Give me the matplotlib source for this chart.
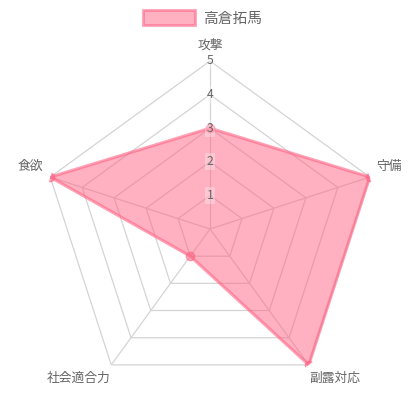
import numpy as np
import matplotlib
matplotlib.use("Agg")
import matplotlib.pyplot as plt
from matplotlib.patches import Patch

plt.rcParams['font.family'] = ['Noto Sans CJK JP', 'DejaVu Sans']

# --- data ---
labels = ['攻撃', '守備', '副露対応', '社会適合力', '食欲']
values = [3, 5, 5, 1, 5]
series_name = '高倉拓馬'
r_ticks = [1, 2, 3, 4, 5]
r_max = 5

TEXT = '#666666'
GRID = '#d4d4d4'
FILL = (1.0, 99 / 255, 132 / 255, 0.5)
EDGE = (1.0, 99 / 255, 132 / 255, 0.6)

n = len(labels)
theta = np.arange(n) * 2 * np.pi / n

fig = plt.figure(figsize=(4.2, 4.2), dpi=100)
ax = fig.add_axes([0.1, 0.0548, 0.8, 0.8], projection='polar')
ax.set_theta_zero_location('N')
ax.set_theta_direction(-1)
ax.set_ylim(0, r_max)
ax.grid(False)
ax.spines['polar'].set_visible(False)
ax.set_xticks([])
ax.set_yticks([])
ax.patch.set_alpha(0)

# polygon grid and spokes
th_closed = np.append(theta, theta[0])
for r in r_ticks:
    ax.plot(th_closed, [r] * (n + 1), color=GRID, lw=0.9, zorder=1)
for t in theta:
    ax.plot([t, t], [0, r_max], color=GRID, lw=0.9, zorder=1)

# data series
v_closed = np.append(values, values[0])
ax.fill(th_closed, v_closed, color=FILL, lw=0, zorder=2)
ax.plot(th_closed, v_closed, color=EDGE, lw=2.2, zorder=3)
ax.plot(theta, values, 'o', ms=6, color=FILL, mec=EDGE, mew=1, zorder=4)

# radial tick labels along the top spoke
for r in r_ticks:
    ax.text(0, r, str(r), ha='center', va='center', fontsize=8.8, color=TEXT, zorder=5,
            bbox=dict(boxstyle='square,pad=0.15', fc='white', ec='none', alpha=0.3))

# axis labels (offsets in points)
label_pos = [
    ((0, 11.5), 'center'),
    ((5, 7.5), 'left'),
    ((0.5, -9.5), 'left'),
    ((-0.5, -9.5), 'right'),
    ((-5, 7.5), 'right'),
]
for t, lab, (off, ha) in zip(theta, labels, label_pos):
    ax.annotate(lab, xy=(t, r_max), xytext=off, textcoords='offset points',
                ha=ha, va='center', fontsize=9.2, color=TEXT, annotation_clip=False)

# legend
handle = Patch(facecolor=FILL, edgecolor=EDGE, linewidth=2)
fig.legend([handle], [series_name], loc='center', bbox_to_anchor=(0.482, 0.957),
           frameon=False, fontsize=10.6, labelcolor=TEXT, handlelength=3.5,
           handleheight=1.15, handletextpad=0.55, borderpad=0, borderaxespad=0)

fig.savefig('out.png', dpi=100)
